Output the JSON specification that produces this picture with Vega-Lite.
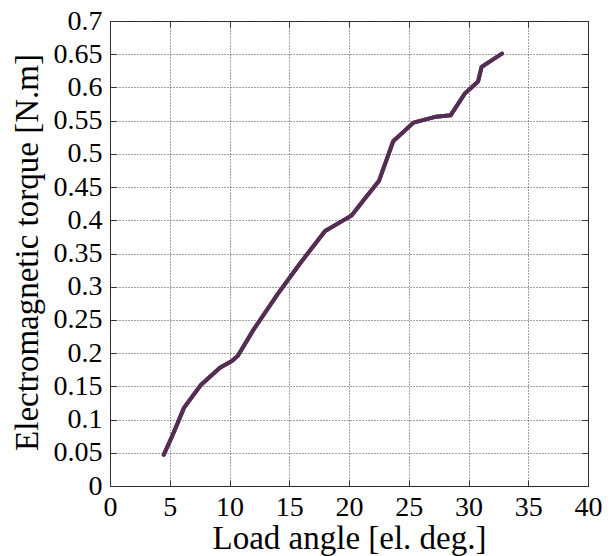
{
  "$schema": "https://vega.github.io/schema/vega-lite/v6.json",
  "autosize": {"type": "none"},
  "width": 478,
  "height": 465,
  "padding": {"left": 110, "top": 21, "right": 26, "bottom": 70},
  "background": "white",
  "config": {
    "view": {"stroke": "#333333", "strokeWidth": 1},
    "font": "Liberation Serif",
    "axis": {
      "labelFont": "Liberation Serif",
      "titleFont": "Liberation Serif",
      "labelFontSize": 28,
      "titleFontSize": 33,
      "titleFontWeight": "normal",
      "labelColor": "black",
      "titleColor": "black",
      "domain": false,
      "tickColor": "#333333",
      "tickSize": -6,
      "gridColor": "#222222",
      "gridDash": [1, 2],
      "gridOpacity": 0.85,
      "gridWidth": 1
    }
  },
  "data": {
    "values": [
      {"angle": 4.5, "torque": 0.047},
      {"angle": 5.2, "torque": 0.075},
      {"angle": 6.2, "torque": 0.118},
      {"angle": 7.6, "torque": 0.152},
      {"angle": 9.2, "torque": 0.178},
      {"angle": 10.2, "torque": 0.188},
      {"angle": 10.7, "torque": 0.196},
      {"angle": 12.0, "torque": 0.235},
      {"angle": 14.0, "torque": 0.288},
      {"angle": 15.9, "torque": 0.335},
      {"angle": 18.0, "torque": 0.384},
      {"angle": 20.2, "torque": 0.407},
      {"angle": 21.3, "torque": 0.432},
      {"angle": 22.5, "torque": 0.459},
      {"angle": 23.7, "torque": 0.519},
      {"angle": 25.4, "torque": 0.547},
      {"angle": 27.3, "torque": 0.556},
      {"angle": 28.5, "torque": 0.558},
      {"angle": 29.7, "torque": 0.591},
      {"angle": 30.8, "torque": 0.609},
      {"angle": 31.1, "torque": 0.631},
      {"angle": 32.8, "torque": 0.651}
    ]
  },
  "resolve": {"axis": {"x": "independent", "y": "independent"}},
  "layer": [
    {
      "mark": {"type": "line", "color": "#552d52", "strokeWidth": 4, "strokeJoin": "round", "strokeCap": "round"},
      "encoding": {
        "x": {
          "field": "angle",
          "type": "quantitative",
          "title": "Load angle [el. deg.]",
          "scale": {"domain": [0, 40], "nice": false},
          "axis": {"values": [0, 5, 10, 15, 20, 25, 30, 35, 40], "format": "~g", "labelPadding": 13, "labelFlush": false, "titleBaseline": "alphabetic", "titleX": 239, "titleY": 62}
        },
        "y": {
          "field": "torque",
          "type": "quantitative",
          "title": "Electromagnetic torque [N.m]",
          "scale": {"domain": [0, 0.7], "nice": false, "zero": true},
          "axis": {"values": [0, 0.05, 0.1, 0.15, 0.2, 0.25, 0.3, 0.35, 0.4, 0.45, 0.5, 0.55, 0.6, 0.65, 0.7], "format": "~g", "labelPadding": 14, "labelFlush": false, "titleBaseline": "alphabetic", "titleX": -73, "titleY": 231}
        }
      }
    },
    {
      "mark": {"type": "line", "color": "#552d52", "strokeWidth": 4, "strokeJoin": "round", "strokeCap": "round"},
      "encoding": {
        "x": {
          "field": "angle",
          "type": "quantitative",
          "scale": {"domain": [0, 40], "nice": false},
          "axis": {"orient": "top", "values": [0, 5, 10, 15, 20, 25, 30, 35, 40], "labels": false, "title": null, "grid": false}
        },
        "y": {
          "field": "torque",
          "type": "quantitative",
          "scale": {"domain": [0, 0.7], "nice": false, "zero": true},
          "axis": {"orient": "right", "values": [0, 0.05, 0.1, 0.15, 0.2, 0.25, 0.3, 0.35, 0.4, 0.45, 0.5, 0.55, 0.6, 0.65, 0.7], "labels": false, "title": null, "grid": false}
        }
      }
    }
  ]
}
